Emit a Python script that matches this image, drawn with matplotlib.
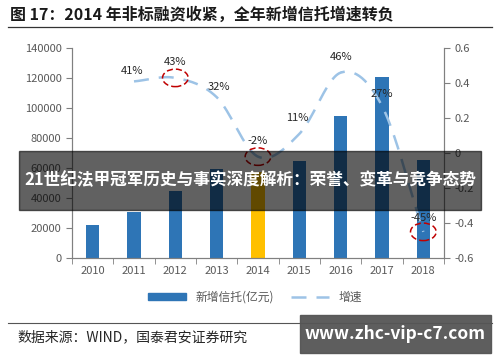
import matplotlib.pyplot as plt
import numpy as np
from matplotlib.patches import Ellipse, Rectangle
from matplotlib.lines import Line2D

plt.rcParams['font.family'] = ['Noto Sans CJK SC', 'DejaVu Sans']

years = ['2010', '2011', '2012', '2013', '2014', '2015', '2016', '2017', '2018']
new_trust = [22000, 31000, 45000, 59500, 57500, 64500, 95000, 120500, 65500]
growth_years = ['2011', '2012', '2013', '2014', '2015', '2016', '2017', '2018']
growth = [0.41, 0.43, 0.32, -0.02, 0.11, 0.46, 0.27, -0.45]
growth_labels = ['41%', '43%', '32%', '-2%', '11%', '46%', '27%', '-45%']
circled = ['2012', '2014', '2018']


def catmull_rom(x, y, n=30):
    x = np.asarray(x, float)
    y = np.asarray(y, float)
    px = np.concatenate([[2 * x[0] - x[1]], x, [2 * x[-1] - x[-2]]])
    py = np.concatenate([[2 * y[0] - y[1]], y, [2 * y[-1] - y[-2]]])
    xs, ys = [], []
    for i in range(1, len(px) - 2):
        t = np.linspace(0, 1, n)
        for p, out in ((px, xs), (py, ys)):
            p0, p1, p2, p3 = p[i - 1], p[i], p[i + 1], p[i + 2]
            out.extend(0.5 * (2 * p1 + (-p0 + p2) * t
                              + (2 * p0 - 5 * p1 + 4 * p2 - p3) * t ** 2
                              + (-p0 + 3 * p1 - 3 * p2 + p3) * t ** 3))
    return np.array(xs), np.array(ys)


fig = plt.figure(figsize=(5, 3.62), dpi=100)
ax = fig.add_axes([0.144, 0.287, 0.744, 0.58])
ax2 = ax.twinx()

gray = '#595959'
x = np.arange(len(years))
colors = ['#FFC000' if y == '2014' else '#2E75B6' for y in years]
ax.bar(x, new_trust, width=0.33, color=colors, zorder=2)
ax.set_xlim(-0.5, len(years) - 0.5)
ax.set_ylim(0, 140000)
ax.set_yticks(np.arange(0, 140001, 20000))
ax.set_xticks(x)
ax.set_xticklabels(years)
ax.set_xticks(np.arange(-0.5, len(years), 1), minor=True)
ax.tick_params(axis='x', which='major', length=0, pad=6)
ax.tick_params(axis='x', which='minor', length=4, color='#808080')
ax.tick_params(axis='y', length=4, color='#808080')
ax.tick_params(labelsize=8, labelcolor=gray)

gx = np.array([years.index(g) for g in growth_years])
sx, sy = catmull_rom(gx, growth)
ax2.plot(sx, sy, color='#9DC3E6', lw=1.8, dashes=(6, 4), zorder=3)
ax2.set_ylim(-0.6, 0.6)
ax2.set_yticks([-0.6, -0.4, -0.2, 0, 0.2, 0.4, 0.6])
ax2.set_yticklabels(['-0.6', '-0.4', '-0.2', '0', '0.2', '0.4', '0.6'])
ax2.tick_params(axis='y', length=4, color='#808080', labelsize=8, labelcolor=gray)

offsets = {'41%': (-0.05, 0.06), '43%': (0, 0.09), '32%': (0.05, 0.06),
           '-2%': (0, 0.09), '11%': (-0.05, 0.09), '46%': (0, 0.09),
           '27%': (0, 0.07), '-45%': (0, 0.08)}
for xi, g, lab in zip(gx, growth, growth_labels):
    dx, dy = offsets[lab]
    ax2.text(xi + dx, g + dy, lab, ha='center', va='center', fontsize=8, color='#262626')

for c in circled:
    i = years.index(c)
    g = growth[growth_years.index(c)]
    ax2.add_patch(Ellipse((i, g), 0.62, 0.1, fill=False, ec='#C00000',
                          ls=(0, (4, 2)), lw=1.1, zorder=4))

for a in (ax, ax2):
    a.spines['top'].set_visible(False)
    for s in ('left', 'right', 'bottom'):
        a.spines[s].set_color('#808080')

handles = [Rectangle((0, 0), 1, 1, color='#2E75B6'),
           Line2D([0], [0], color='#9DC3E6', lw=1.8, dashes=(6, 4))]
fig.legend(handles, ['新增信托(亿元)', '增速'], loc='center', bbox_to_anchor=(0.51, 0.18),
           ncol=2, frameon=False, fontsize=8.5, handlelength=3.2, handleheight=0.5,
           columnspacing=1.5, labelcolor=gray)

fig.text(0.02, 0.96, '图 17：2014 年非标融资收紧，全年新增信托增速转负', fontsize=11.5,
         fontweight='bold', va='center', color='#1a1a1a')
fig.add_artist(Line2D([0.016, 0.984], [0.925, 0.925], color='#333333', lw=0.9))
fig.add_artist(Line2D([0.016, 0.984], [0.108, 0.108], color='#555555', lw=0.8))
fig.text(0.035, 0.068, '数据来源：WIND，国泰君安证券研究', fontsize=10, va='center', color='#262626')

# overlay banners
fig.add_artist(Rectangle((0.038, 0.42), 0.924, 0.163, transform=fig.transFigure,
                         color='black', alpha=0.62, zorder=10))
fig.text(0.5, 0.502, '21世纪法甲冠军历史与事实深度解析：荣誉、变革与竞争态势', fontsize=12,
         fontweight='bold', color='white', ha='center', va='center', zorder=11)
fig.add_artist(Rectangle((0.6, 0.025), 0.382, 0.105, transform=fig.transFigure,
                         color='#555555', alpha=0.95, zorder=10))
fig.text(0.791, 0.078, 'www.zhc-vip-c7.com', fontsize=12.5, fontweight='bold',
         color='white', ha='center', va='center', zorder=11)

fig.savefig('out.png', dpi=100)
